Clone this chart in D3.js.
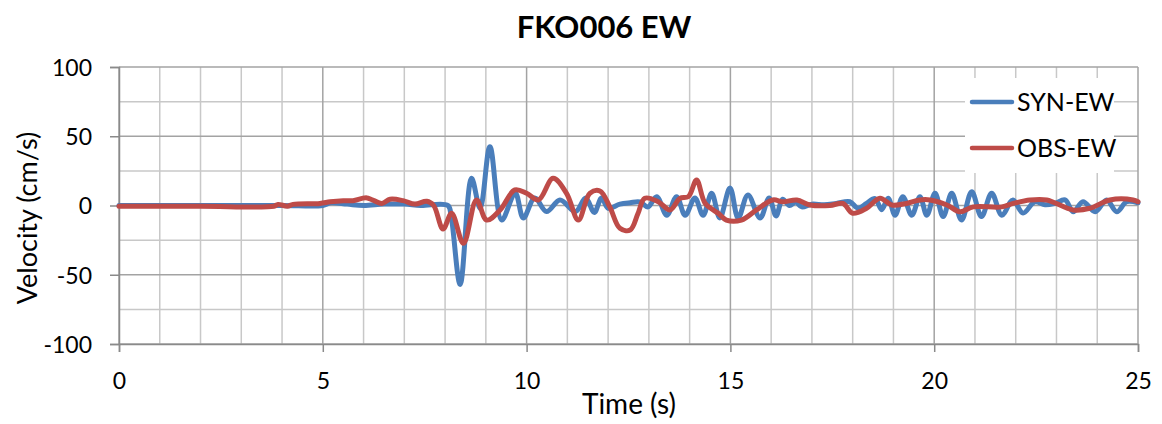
<!DOCTYPE html>
<html>
<head>
<meta charset="utf-8">
<script src="https://cdn.jsdelivr.net/npm/d3@7"></script>
<style>
  html, body { margin: 0; padding: 0; background: #fff; }
  svg { display: block; font-family: Lato, "Liberation Sans", sans-serif; }
</style>
</head>
<body>
<svg id="chart" width="1162" height="424"></svg>
<script>
// Velocity waveform at station FKO006, east-west component.
const titleText = "FKO006 EW";
const xTicks = [0, 5, 10, 15, 20, 25];
const yTicks = [-100, -50, 0, 50, 100];
const seriesNames = ["SYN-EW", "OBS-EW"];

// Synthetic record: time (s) and velocity (cm/s)
const synTime = [0, 2, 4, 5.0, 5.2, 5.6, 6.0, 6.5, 7.0, 7.4, 8.07, 8.15, 8.37, 8.65, 8.86, 9.1, 9.39, 9.72, 9.92,
  10.2, 10.49, 10.82, 11.2, 11.45, 11.66, 11.84, 12.0, 12.29, 12.54, 12.78, 12.98, 13.19, 13.44, 13.68, 13.89,
  14.13, 14.33, 14.54, 14.74, 14.99, 15.19, 15.43, 15.73, 15.95, 16.12, 16.28, 16.45, 16.6, 16.75, 17.0, 17.3,
  17.6, 17.93, 18.13, 18.34, 18.55, 18.71, 18.87, 19.04, 19.23, 19.45, 19.65, 19.82, 20.02, 20.22, 20.43, 20.67,
  20.92, 21.16, 21.41, 21.66, 21.93, 22.18, 22.47, 22.72, 22.96, 23.21, 23.41, 23.65, 23.95, 24.23, 24.48, 24.72, 25];
const synVel = [0, 0, 0, 0, 2, 1, 0, 1, 1, 0, 0, -8, -57, 19.6, -2, 42.5, -10.5, 9, -9,
  5.4, -4.4, 4, -4.4, 5.4, -5, 5.4, -2, 1, 2, 2.5, -1, 6.4, -7, 6.4, -7,
  5.4, -7, 8.8, -9, 12.6, -9, 7.6, -9, 5.5, -7.5, 4.5, 0, 2.5, -1, 1, 0.5,
  1.5, 2.7, -2, 1.5, 5, -3, 5.2, -7, 6.4, -7, 6.4, -7, 8.8, -8, 8.8, -10.5,
  10, -8, 8.8, -7, 4, -5.5, 2.7, 0.5, 1.5, 4, -4.5, 2.7, -4.5, 4, -4.5, 2.7, 2];

// Observed record: time (s) and velocity (cm/s)
const obsTime = [0, 2, 3.8, 3.9, 4.13, 4.27, 4.93, 5.18, 5.5, 5.74, 6.08, 6.45, 6.65, 6.97, 7.26, 7.55, 7.72,
  7.95, 8.16, 8.45, 8.77, 9.02, 9.35, 9.71, 10.0, 10.29, 10.65, 10.98, 11.27, 11.55, 11.8, 12.04, 12.29, 12.54,
  12.73, 12.9, 13.23, 13.52, 13.76, 13.97, 14.17, 14.38, 14.7, 14.9, 15.27, 15.64, 16.04, 16.29, 16.63, 16.95,
  17.44, 17.76, 18.0, 18.34, 18.67, 18.96, 19.32, 19.65, 19.9, 20.31, 20.63, 20.96, 21.66, 21.94, 22.35, 22.76,
  23.41, 23.82, 24.31, 24.88, 25];
const obsVel = [-0.5, -0.5, -0.5, 0.8, -0.5, 0.8, 1.5, 2.7, 3.5, 3.5, 5.5, 1.5, 4.5, 3.5, 1, 3, 0,
  -17, -5.6, -27.3, 4, -10.5, -3.2, 11.2, 8.8, 4, 19.6, 8.8, -10.5, 8.8, 10.5, -1, -16.5, -17.7,
  -6, 5.2, 2.7, -3.2, 5.2, 6.4, 18.4, 1.6, -5.6, -10.5, -10.5, -3.2, 4, 2.7, 4, 0.4,
  0, 1.5, -5.6, -2, 5.2, 0.4, 1.5, 4, 4, 0.4, -4.5, -1, -1, 1.5, 4, 4,
  -3.2, -2, 4, 4, 2.7];

const seriesColors = ["#4a7ebb", "#be4b48"];

const svg = d3.select("#chart");
const plotLeft = 119, plotRight = 1138, plotTop = 67, plotBottom = 344;

const x = d3.scaleLinear().domain([0, 25]).range([plotLeft, plotRight]);
const y = d3.scaleLinear().domain([-100, 100]).range([plotBottom, plotTop]);

// Minor grid: 1 s and 25 cm/s
const grid = svg.append("g");
grid.selectAll(".vmin").data(d3.range(0, 26).filter(d => d % 5 !== 0)).join("line")
  .attr("x1", d => x(d)).attr("x2", d => x(d)).attr("y1", plotTop).attr("y2", plotBottom)
  .attr("stroke", "#c8c8c8").attr("stroke-width", 1.5);
grid.selectAll(".hmin").data([-75, -25, 25, 75]).join("line")
  .attr("x1", plotLeft).attr("x2", plotRight).attr("y1", d => y(d)).attr("y2", d => y(d))
  .attr("stroke", "#c8c8c8").attr("stroke-width", 1.5);
// Major grid: 5 s and 50 cm/s
grid.selectAll(".vmaj").data(xTicks).join("line")
  .attr("x1", d => x(d)).attr("x2", d => x(d)).attr("y1", plotTop).attr("y2", plotBottom)
  .attr("stroke", "#a3a3a3").attr("stroke-width", 1.5);
grid.selectAll(".hmaj").data(yTicks).join("line")
  .attr("x1", plotLeft).attr("x2", plotRight).attr("y1", d => y(d)).attr("y2", d => y(d))
  .attr("stroke", "#a3a3a3").attr("stroke-width", 1.5);

// Axes (plain hyphen for negative labels)
const plainNum = d => String(d);
const xAxis = svg.append("g").attr("transform", `translate(0,${plotBottom})`)
  .call(d3.axisBottom(x).tickValues(xTicks).tickFormat(plainNum).tickSize(8).tickPadding(21));
const yAxis = svg.append("g").attr("transform", `translate(${plotLeft},0)`)
  .call(d3.axisLeft(y).tickValues(yTicks).tickFormat(plainNum).tickSize(9).tickPadding(18));
[xAxis, yAxis].forEach(g => {
  g.select(".domain").attr("stroke", "#8a8a8a").attr("stroke-width", 1.5);
  g.selectAll(".tick line").attr("stroke", "#8a8a8a").attr("stroke-width", 1.5);
  g.selectAll(".tick text").attr("fill", "#000").style("font-size", "23px").style("font-family", "Lato");
});
yAxis.selectAll(".tick text").attr("dy", "0.36em");

// Waveforms
const line = d3.line().x(d => x(d[0])).y(d => y(d[1])).curve(d3.curveCatmullRom.alpha(0.5));
const synData = d3.zip(synTime, synVel);
const obsData = d3.zip(obsTime, obsVel);
svg.append("path").datum(synData).attr("d", line)
  .attr("fill", "none").attr("stroke", seriesColors[0]).attr("stroke-width", 5)
  .attr("stroke-linejoin", "round").attr("stroke-linecap", "round");
svg.append("path").datum(obsData).attr("d", line)
  .attr("fill", "none").attr("stroke", seriesColors[1]).attr("stroke-width", 5)
  .attr("stroke-linejoin", "round").attr("stroke-linecap", "round");

// Title and axis titles
svg.append("text").attr("x", 604).attr("y", 38).attr("text-anchor", "middle")
  .style("font-size", "31px").style("font-weight", "bold").text(titleText);
svg.append("text").attr("x", 629).attr("y", 414).attr("text-anchor", "middle")
  .style("font-size", "28px").text("Time (s)");
svg.append("text").attr("transform", "translate(37,218) rotate(-90)").attr("text-anchor", "middle")
  .style("font-size", "27px").text("Velocity (cm/s)");

// Legend
const legend = svg.append("g");
legend.append("rect").attr("x", 965).attr("y", 78).attr("width", 149).attr("height", 95).attr("fill", "#fff");
seriesNames.forEach((name, i) => {
  const ly = 102 + i * 46;
  legend.append("line").attr("x1", 972).attr("x2", 1012).attr("y1", ly).attr("y2", ly)
    .attr("stroke", seriesColors[i]).attr("stroke-width", 4.5).attr("stroke-linecap", "round");
  legend.append("text").attr("x", 1017).attr("y", ly + 9).style("font-size", "25px").text(name);
});
</script>
</body>
</html>
